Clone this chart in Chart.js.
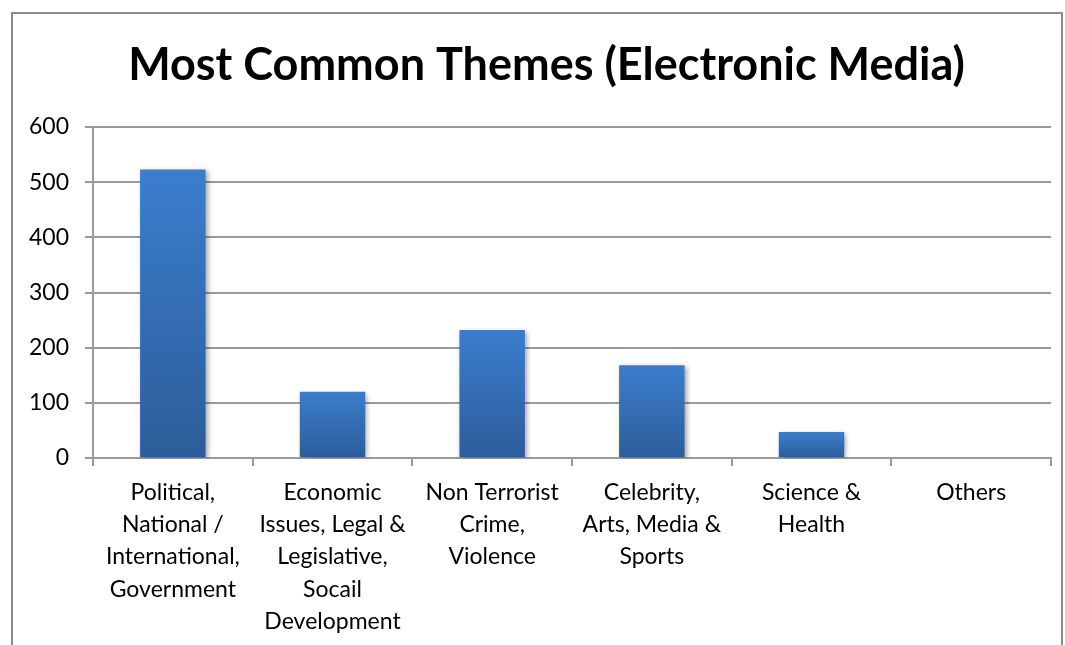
<!DOCTYPE html>
<html>
<head>
<meta charset="utf-8">
<script src="https://cdn.jsdelivr.net/npm/chart.js@4"></script>
<style>
  body { margin: 0; background: #fff; }
  #frame { position: absolute; left: 11px; top: 12px; width: 1052px; height: 700px; border: 2px solid #8c8c8c; box-sizing: border-box; }
  #wrap { position: absolute; left: 0; top: 0; width: 1065px; height: 645px; }
</style>
</head>
<body>
<div id="frame"></div>
<div id="wrap"><canvas id="themes"></canvas></div>
<script>
// categories and values
const categories = [
  ["Political,", "National /", "International,", "Government"],
  ["Economic", "Issues, Legal &", "Legislative,", "Socail", "Development"],
  ["Non Terrorist", "Crime,", "Violence"],
  ["Celebrity,", "Arts, Media &", "Sports"],
  ["Science &", "Health"],
  ["Others"]
];
const counts = [523, 120, 232, 168, 47, 0];
const yTicks = [0, 100, 200, 300, 400, 500, 600];

const fontFamily = "Lato, 'Open Sans', sans-serif";

function barGradient(ctx) {
  const chart = ctx.chart;
  const y = chart.scales.y;
  if (!y || ctx.parsed === undefined) return "#3a7bcb";
  const top = y.getPixelForValue(ctx.parsed.y);
  const base = y.getPixelForValue(0);
  if (!isFinite(top) || !isFinite(base) || top === base) return "#3a7bcb";
  const g = chart.ctx.createLinearGradient(0, top, 0, base);
  g.addColorStop(0, "#3b7dcd");
  g.addColorStop(1, "#2c5d9a");
  return g;
}

const barShadow = {
  id: "barShadow",
  beforeDatasetDraw(chart) {
    const c = chart.ctx;
    c.save();
    c.shadowColor = "rgba(0,0,0,0.35)";
    c.shadowBlur = 5;
    c.shadowOffsetX = 2;
    c.shadowOffsetY = 2;
  },
  afterDatasetDraw(chart) {
    chart.ctx.restore();
  }
};

// title sits a bit right of the canvas centre in the original
const titleShift = {
  id: "titleShift",
  afterLayout(chart) {
    if (chart.titleBlock) chart.titleBlock.left += 42;
  }
};

const chart = new Chart(document.querySelector("#themes"), {
  type: "bar",
  data: {
    labels: categories,
    datasets: [{
      label: "Themes",
      data: counts,
      backgroundColor: barGradient,
      borderWidth: 0,
      barPercentage: 0.41,
      categoryPercentage: 1
    }]
  },
  options: {
    responsive: true,
    maintainAspectRatio: false,
    animation: false,
    layout: { padding: { left: 0, right: 14, top: 0, bottom: 0 } },
    plugins: {
      legend: { display: false },
      tooltip: { enabled: false },
      title: {
        display: true,
        text: "Most Common Themes (Electronic Media)",
        color: "#000",
        font: { family: fontFamily, size: 45, weight: "bold" },
        padding: { top: 38, bottom: 35 }
      }
    },
    scales: {
      x: {
        grid: { drawOnChartArea: false, color: "#9a9a9a", lineWidth: 2, tickLength: 8, offset: true },
        border: { color: "#9a9a9a", width: 2 },
        ticks: {
          color: "#000",
          maxRotation: 0,
          autoSkip: false,
          padding: 10,
          font: { family: fontFamily, size: 23, lineHeight: 1.41 }
        },
        afterFit(scale) { scale.height = 187; }
      },
      y: {
        min: 0,
        max: 600,
        afterBuildTicks(scale) { scale.ticks = yTicks.map(v => ({ value: v })); },
        grid: { color: "#9a9a9a", lineWidth: 2, tickLength: 8 },
        border: { color: "#9a9a9a", width: 2 },
        ticks: {
          color: "#000",
          padding: 16,
          font: { family: fontFamily, size: 23 }
        },
        afterFit(scale) { scale.width = 93; }
      }
    }
  },
  plugins: [barShadow, titleShift]
});
</script>
</body>
</html>
